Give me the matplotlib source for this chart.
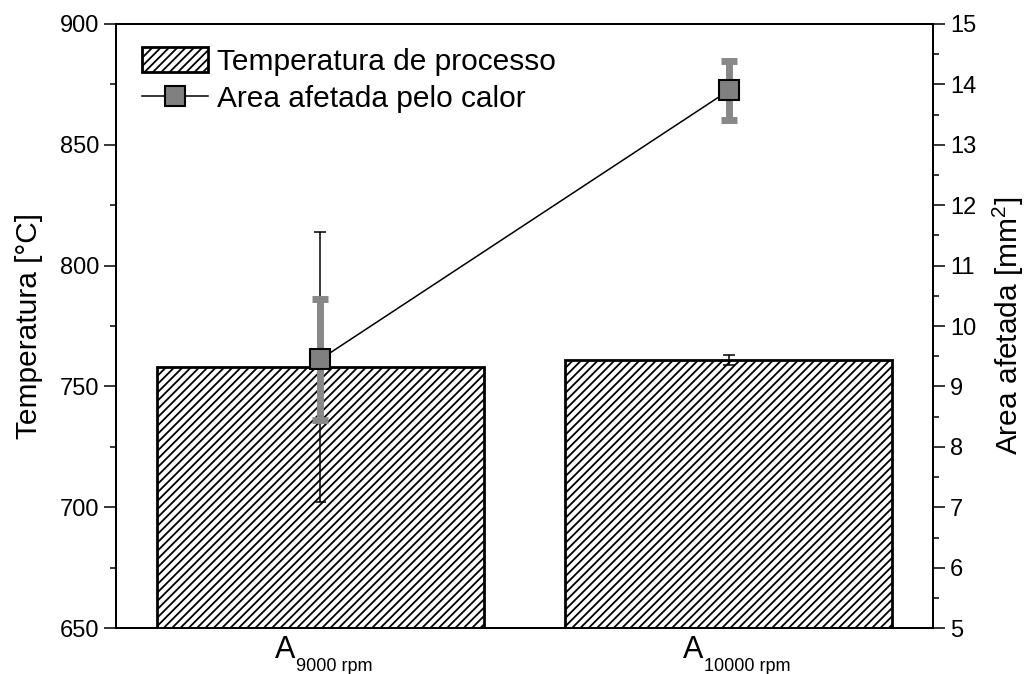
import matplotlib
matplotlib.use('Agg')
import matplotlib.pyplot as plt
import matplotlib.transforms as mtransforms
from matplotlib.ticker import MultipleLocator
import numpy as np

# ---   DATA   --- #
# ---------------- #
categories = ['9000 rpm', '10000 rpm']
temperature = [758, 761]
temperature_err = [56, 2]
area = [9.45, 13.9]
area_err = [1.0, 0.49]

# ---   STYLE   --- #
# ----------------- #
plt.rcParams['font.family'] = ['Liberation Sans', 'DejaVu Sans']
plt.rcParams['hatch.linewidth'] = 1.3
plt.rcParams['mathtext.fontset'] = 'custom'
plt.rcParams['mathtext.rm'] = 'Liberation Sans'
NARROW = ['Liberation Sans Narrow', 'Liberation Sans', 'DejaVu Sans']
GREY = '#888888'

# ---   MAIN   --- #
# ---------------- #
if __name__ == "__main__":
    fig = plt.figure(figsize=(10.27, 6.74), dpi=100)
    ax = fig.add_axes([0.113, 0.068, 0.7955, 0.8964])
    xtwin = ax.twinx()
    x = np.arange(len(categories))

    # Bars with temperature
    bars = ax.bar(
        x, temperature, width=0.8, color='white', edgecolor='black',
        linewidth=2, hatch='////', zorder=2, label='Temperatura de processo'
    )
    ax.errorbar(
        x, temperature, yerr=temperature_err, fmt='none', ecolor='black',
        elinewidth=1.1, capsize=4.3, capthick=1.1, zorder=3
    )

    # Affected area on twin axis
    xtwin.errorbar(
        x, area, yerr=area_err, fmt='none', ecolor=GREY,
        elinewidth=5, capsize=6, capthick=5, zorder=2
    )
    line, = xtwin.plot(
        x, area, color='black', lw=1.1, marker='s', ms=15,
        mfc='#808080', mec='black', mew=1.5, zorder=3,
        label='Area afetada pelo calor'
    )

    # Axes limits and ticks
    ax.set_xlim(-0.5, 1.5)
    ax.set_ylim(650, 900)
    ax.yaxis.set_major_locator(MultipleLocator(50))
    ax.yaxis.set_minor_locator(MultipleLocator(25))
    xtwin.set_ylim(5, 15)
    xtwin.yaxis.set_major_locator(MultipleLocator(1))
    xtwin.yaxis.set_minor_locator(MultipleLocator(0.5))
    ax.set_xticks(x)
    ax.set_xticklabels(['', ''])
    ax.tick_params(axis='x', length=0)
    for a in (ax, xtwin):
        a.tick_params(axis='y', which='major', direction='out', length=8.6,
                      width=1.1, labelsize=17)
        a.tick_params(axis='y', which='minor', direction='out', length=4.3,
                      width=1.1)
        for s in a.spines.values():
            s.set_linewidth(1.4)

    # Category labels: A with subscript
    trans = mtransforms.blended_transform_factory(ax.transData, ax.transAxes)
    for xi, cat in zip(x, categories):
        ax.annotate('A', xy=(xi, 0), xycoords=trans, xytext=(-18, -21.5),
                    textcoords='offset points', ha='right', va='baseline',
                    fontsize=22, family=NARROW)
        ax.annotate(cat, xy=(xi, 0), xycoords=trans, xytext=(-17.5, -30.5),
                    textcoords='offset points', ha='left', va='baseline',
                    fontsize=13, family=NARROW)

    # Labels
    ax.set_ylabel('Temperatura [°C]', fontsize=21.5, labelpad=12)
    xtwin.set_ylabel(r'Area afetada [mm$^{2}$]', fontsize=21.5, labelpad=10)

    # Legend
    xtwin.legend(
        [bars, line], ['Temperatura de processo', 'Area afetada pelo calor'],
        loc='upper left', bbox_to_anchor=(0.032, 0.962), frameon=False,
        fontsize=21.5, borderpad=0, borderaxespad=0, handlelength=2.2,
        handleheight=0.9, handletextpad=0.3, labelspacing=0.3
    )

    plt.savefig('out.png', dpi=100)
